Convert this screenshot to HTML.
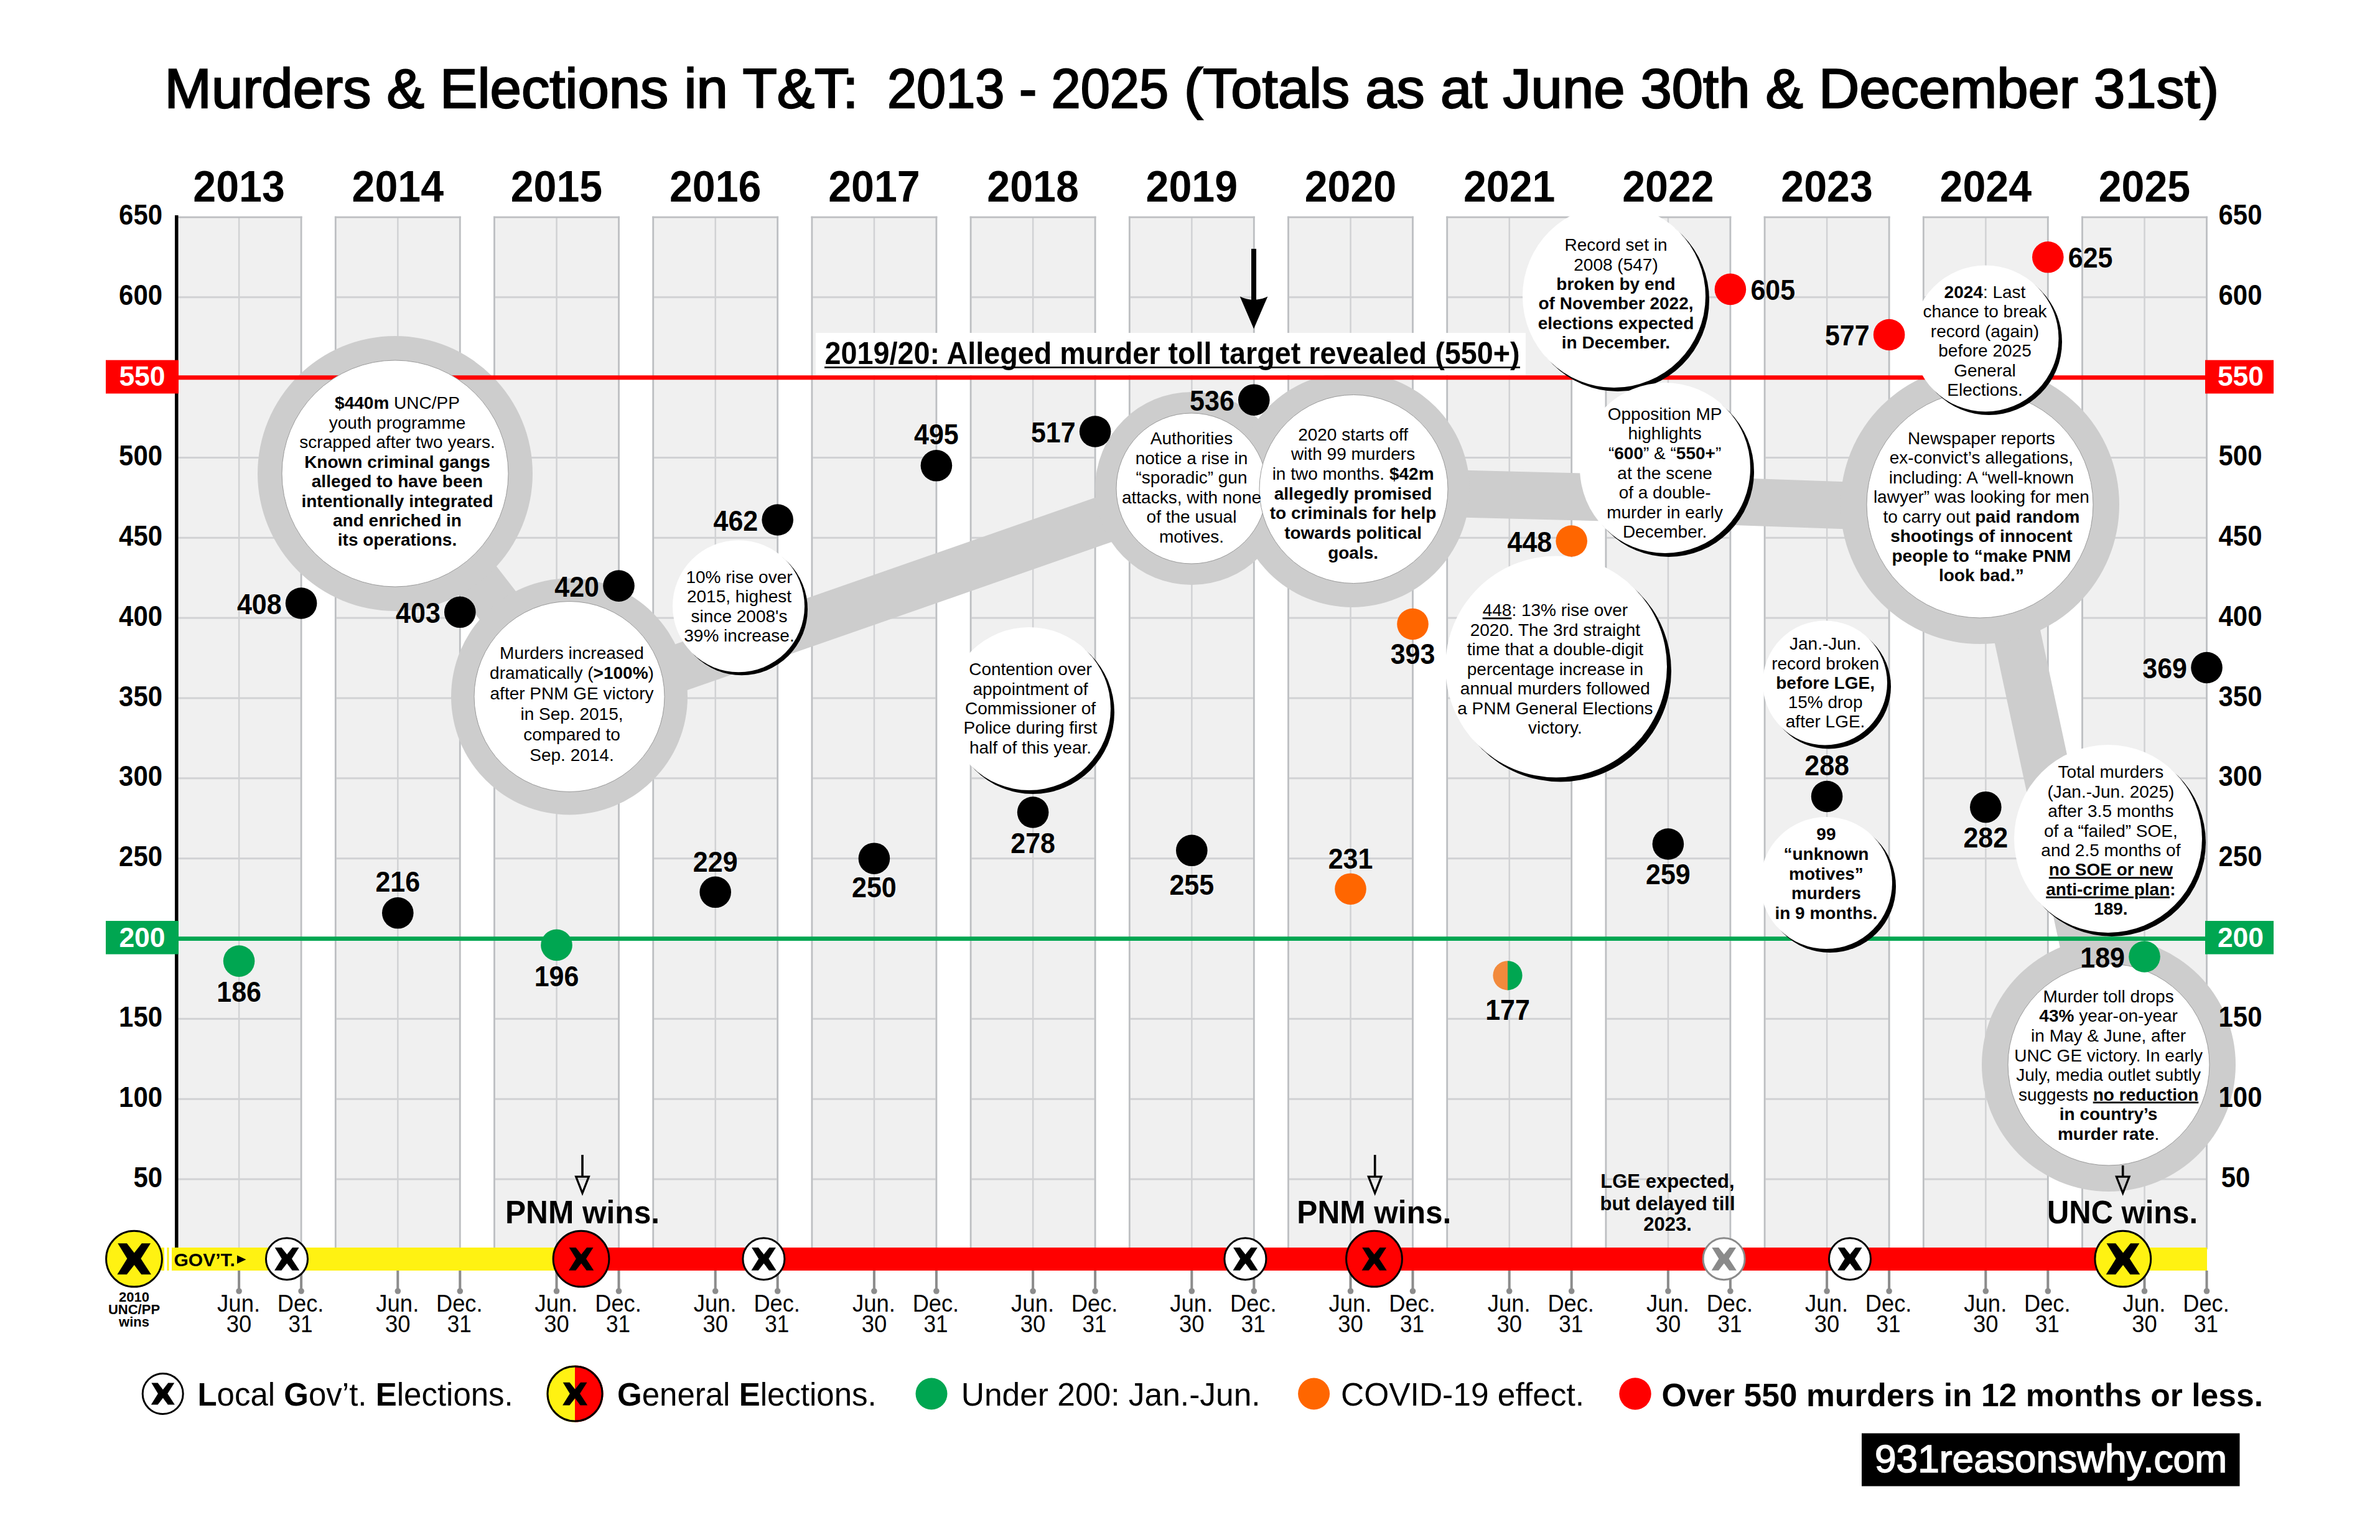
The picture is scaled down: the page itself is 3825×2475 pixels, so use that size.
<!DOCTYPE html>
<html><head><meta charset="utf-8"><title>Murders &amp; Elections in T&amp;T</title>
<style>html,body{margin:0;padding:0;background:#fff;}svg{display:block;}text{font-family:"Liberation Sans", sans-serif;}</style>
</head><body>
<svg width="3825" height="2475" viewBox="0 0 3825 2475" font-family='"Liberation Sans", sans-serif'>
<rect width="3825" height="2475" fill="#fff"/>
<text x="264.5" y="173.3" font-size="88.5" stroke="#000" stroke-width="2.3" fill="#000" lengthAdjust="spacingAndGlyphs" textLength="1115">Murders &amp; Elections in T&amp;T:</text>
<text x="1426" y="173.3" font-size="88.5" stroke="#000" stroke-width="2.3" fill="#000" lengthAdjust="spacingAndGlyphs" textLength="452">2013 - 2025</text>
<text x="1903" y="173.3" font-size="88.5" stroke="#000" stroke-width="2.3" fill="#000" lengthAdjust="spacingAndGlyphs" textLength="1663">(Totals as at June 30th &amp; December 31st)</text>
<text x="384.1" y="324" font-size="70" font-weight="bold" text-anchor="middle" textLength="147.5" lengthAdjust="spacingAndGlyphs">2013</text>
<text x="639.3" y="324" font-size="70" font-weight="bold" text-anchor="middle" textLength="147.5" lengthAdjust="spacingAndGlyphs">2014</text>
<text x="894.5" y="324" font-size="70" font-weight="bold" text-anchor="middle" textLength="147.5" lengthAdjust="spacingAndGlyphs">2015</text>
<text x="1149.7" y="324" font-size="70" font-weight="bold" text-anchor="middle" textLength="147.5" lengthAdjust="spacingAndGlyphs">2016</text>
<text x="1404.9" y="324" font-size="70" font-weight="bold" text-anchor="middle" textLength="147.5" lengthAdjust="spacingAndGlyphs">2017</text>
<text x="1660.1" y="324" font-size="70" font-weight="bold" text-anchor="middle" textLength="147.5" lengthAdjust="spacingAndGlyphs">2018</text>
<text x="1915.3" y="324" font-size="70" font-weight="bold" text-anchor="middle" textLength="147.5" lengthAdjust="spacingAndGlyphs">2019</text>
<text x="2170.5" y="324" font-size="70" font-weight="bold" text-anchor="middle" textLength="147.5" lengthAdjust="spacingAndGlyphs">2020</text>
<text x="2425.7" y="324" font-size="70" font-weight="bold" text-anchor="middle" textLength="147.5" lengthAdjust="spacingAndGlyphs">2021</text>
<text x="2680.9" y="324" font-size="70" font-weight="bold" text-anchor="middle" textLength="147.5" lengthAdjust="spacingAndGlyphs">2022</text>
<text x="2936.1" y="324" font-size="70" font-weight="bold" text-anchor="middle" textLength="147.5" lengthAdjust="spacingAndGlyphs">2023</text>
<text x="3191.3" y="324" font-size="70" font-weight="bold" text-anchor="middle" textLength="147.5" lengthAdjust="spacingAndGlyphs">2024</text>
<text x="3446.5" y="324" font-size="70" font-weight="bold" text-anchor="middle" textLength="147.5" lengthAdjust="spacingAndGlyphs">2025</text>
<rect x="284.1" y="349.1" width="200" height="1680" fill="#f0f0f0"/>
<rect x="285.5" y="476.2" width="197.2" height="3" fill="#d1d2d4"/>
<rect x="285.5" y="605.1" width="197.2" height="3" fill="#d1d2d4"/>
<rect x="285.5" y="734.0" width="197.2" height="3" fill="#d1d2d4"/>
<rect x="285.5" y="862.8" width="197.2" height="3" fill="#d1d2d4"/>
<rect x="285.5" y="991.6" width="197.2" height="3" fill="#d1d2d4"/>
<rect x="285.5" y="1120.5" width="197.2" height="3" fill="#d1d2d4"/>
<rect x="285.5" y="1249.3" width="197.2" height="3" fill="#d1d2d4"/>
<rect x="285.5" y="1378.2" width="197.2" height="3" fill="#d1d2d4"/>
<rect x="285.5" y="1507.1" width="197.2" height="3" fill="#d1d2d4"/>
<rect x="285.5" y="1635.9" width="197.2" height="3" fill="#d1d2d4"/>
<rect x="285.5" y="1764.8" width="197.2" height="3" fill="#d1d2d4"/>
<rect x="285.5" y="1893.6" width="197.2" height="3" fill="#d1d2d4"/>
<rect x="382.9" y="349" width="2.5" height="1660" fill="#d1d2d4"/>
<rect x="282.7" y="347.7" width="202.8" height="2.8" fill="#bdbfc2"/>
<rect x="282.7" y="347.7" width="2.8" height="1660" fill="#bdbfc2"/>
<rect x="482.7" y="347.7" width="2.8" height="1660" fill="#bdbfc2"/>
<rect x="539.3" y="349.1" width="200" height="1680" fill="#f0f0f0"/>
<rect x="540.7" y="476.2" width="197.2" height="3" fill="#d1d2d4"/>
<rect x="540.7" y="605.1" width="197.2" height="3" fill="#d1d2d4"/>
<rect x="540.7" y="734.0" width="197.2" height="3" fill="#d1d2d4"/>
<rect x="540.7" y="862.8" width="197.2" height="3" fill="#d1d2d4"/>
<rect x="540.7" y="991.6" width="197.2" height="3" fill="#d1d2d4"/>
<rect x="540.7" y="1120.5" width="197.2" height="3" fill="#d1d2d4"/>
<rect x="540.7" y="1249.3" width="197.2" height="3" fill="#d1d2d4"/>
<rect x="540.7" y="1378.2" width="197.2" height="3" fill="#d1d2d4"/>
<rect x="540.7" y="1507.1" width="197.2" height="3" fill="#d1d2d4"/>
<rect x="540.7" y="1635.9" width="197.2" height="3" fill="#d1d2d4"/>
<rect x="540.7" y="1764.8" width="197.2" height="3" fill="#d1d2d4"/>
<rect x="540.7" y="1893.6" width="197.2" height="3" fill="#d1d2d4"/>
<rect x="638.1" y="349" width="2.5" height="1660" fill="#d1d2d4"/>
<rect x="537.9" y="347.7" width="202.8" height="2.8" fill="#bdbfc2"/>
<rect x="537.9" y="347.7" width="2.8" height="1660" fill="#bdbfc2"/>
<rect x="737.9" y="347.7" width="2.8" height="1660" fill="#bdbfc2"/>
<rect x="794.5" y="349.1" width="200" height="1680" fill="#f0f0f0"/>
<rect x="795.9" y="476.2" width="197.2" height="3" fill="#d1d2d4"/>
<rect x="795.9" y="605.1" width="197.2" height="3" fill="#d1d2d4"/>
<rect x="795.9" y="734.0" width="197.2" height="3" fill="#d1d2d4"/>
<rect x="795.9" y="862.8" width="197.2" height="3" fill="#d1d2d4"/>
<rect x="795.9" y="991.6" width="197.2" height="3" fill="#d1d2d4"/>
<rect x="795.9" y="1120.5" width="197.2" height="3" fill="#d1d2d4"/>
<rect x="795.9" y="1249.3" width="197.2" height="3" fill="#d1d2d4"/>
<rect x="795.9" y="1378.2" width="197.2" height="3" fill="#d1d2d4"/>
<rect x="795.9" y="1507.1" width="197.2" height="3" fill="#d1d2d4"/>
<rect x="795.9" y="1635.9" width="197.2" height="3" fill="#d1d2d4"/>
<rect x="795.9" y="1764.8" width="197.2" height="3" fill="#d1d2d4"/>
<rect x="795.9" y="1893.6" width="197.2" height="3" fill="#d1d2d4"/>
<rect x="893.3" y="349" width="2.5" height="1660" fill="#d1d2d4"/>
<rect x="793.1" y="347.7" width="202.8" height="2.8" fill="#bdbfc2"/>
<rect x="793.1" y="347.7" width="2.8" height="1660" fill="#bdbfc2"/>
<rect x="993.1" y="347.7" width="2.8" height="1660" fill="#bdbfc2"/>
<rect x="1049.7" y="349.1" width="200" height="1680" fill="#f0f0f0"/>
<rect x="1051.1" y="476.2" width="197.2" height="3" fill="#d1d2d4"/>
<rect x="1051.1" y="605.1" width="197.2" height="3" fill="#d1d2d4"/>
<rect x="1051.1" y="734.0" width="197.2" height="3" fill="#d1d2d4"/>
<rect x="1051.1" y="862.8" width="197.2" height="3" fill="#d1d2d4"/>
<rect x="1051.1" y="991.6" width="197.2" height="3" fill="#d1d2d4"/>
<rect x="1051.1" y="1120.5" width="197.2" height="3" fill="#d1d2d4"/>
<rect x="1051.1" y="1249.3" width="197.2" height="3" fill="#d1d2d4"/>
<rect x="1051.1" y="1378.2" width="197.2" height="3" fill="#d1d2d4"/>
<rect x="1051.1" y="1507.1" width="197.2" height="3" fill="#d1d2d4"/>
<rect x="1051.1" y="1635.9" width="197.2" height="3" fill="#d1d2d4"/>
<rect x="1051.1" y="1764.8" width="197.2" height="3" fill="#d1d2d4"/>
<rect x="1051.1" y="1893.6" width="197.2" height="3" fill="#d1d2d4"/>
<rect x="1148.5" y="349" width="2.5" height="1660" fill="#d1d2d4"/>
<rect x="1048.3" y="347.7" width="202.8" height="2.8" fill="#bdbfc2"/>
<rect x="1048.3" y="347.7" width="2.8" height="1660" fill="#bdbfc2"/>
<rect x="1248.3" y="347.7" width="2.8" height="1660" fill="#bdbfc2"/>
<rect x="1304.9" y="349.1" width="200" height="1680" fill="#f0f0f0"/>
<rect x="1306.3" y="476.2" width="197.2" height="3" fill="#d1d2d4"/>
<rect x="1306.3" y="605.1" width="197.2" height="3" fill="#d1d2d4"/>
<rect x="1306.3" y="734.0" width="197.2" height="3" fill="#d1d2d4"/>
<rect x="1306.3" y="862.8" width="197.2" height="3" fill="#d1d2d4"/>
<rect x="1306.3" y="991.6" width="197.2" height="3" fill="#d1d2d4"/>
<rect x="1306.3" y="1120.5" width="197.2" height="3" fill="#d1d2d4"/>
<rect x="1306.3" y="1249.3" width="197.2" height="3" fill="#d1d2d4"/>
<rect x="1306.3" y="1378.2" width="197.2" height="3" fill="#d1d2d4"/>
<rect x="1306.3" y="1507.1" width="197.2" height="3" fill="#d1d2d4"/>
<rect x="1306.3" y="1635.9" width="197.2" height="3" fill="#d1d2d4"/>
<rect x="1306.3" y="1764.8" width="197.2" height="3" fill="#d1d2d4"/>
<rect x="1306.3" y="1893.6" width="197.2" height="3" fill="#d1d2d4"/>
<rect x="1403.7" y="349" width="2.5" height="1660" fill="#d1d2d4"/>
<rect x="1303.5" y="347.7" width="202.8" height="2.8" fill="#bdbfc2"/>
<rect x="1303.5" y="347.7" width="2.8" height="1660" fill="#bdbfc2"/>
<rect x="1503.5" y="347.7" width="2.8" height="1660" fill="#bdbfc2"/>
<rect x="1560.1" y="349.1" width="200" height="1680" fill="#f0f0f0"/>
<rect x="1561.5" y="476.2" width="197.2" height="3" fill="#d1d2d4"/>
<rect x="1561.5" y="605.1" width="197.2" height="3" fill="#d1d2d4"/>
<rect x="1561.5" y="734.0" width="197.2" height="3" fill="#d1d2d4"/>
<rect x="1561.5" y="862.8" width="197.2" height="3" fill="#d1d2d4"/>
<rect x="1561.5" y="991.6" width="197.2" height="3" fill="#d1d2d4"/>
<rect x="1561.5" y="1120.5" width="197.2" height="3" fill="#d1d2d4"/>
<rect x="1561.5" y="1249.3" width="197.2" height="3" fill="#d1d2d4"/>
<rect x="1561.5" y="1378.2" width="197.2" height="3" fill="#d1d2d4"/>
<rect x="1561.5" y="1507.1" width="197.2" height="3" fill="#d1d2d4"/>
<rect x="1561.5" y="1635.9" width="197.2" height="3" fill="#d1d2d4"/>
<rect x="1561.5" y="1764.8" width="197.2" height="3" fill="#d1d2d4"/>
<rect x="1561.5" y="1893.6" width="197.2" height="3" fill="#d1d2d4"/>
<rect x="1658.9" y="349" width="2.5" height="1660" fill="#d1d2d4"/>
<rect x="1558.7" y="347.7" width="202.8" height="2.8" fill="#bdbfc2"/>
<rect x="1558.7" y="347.7" width="2.8" height="1660" fill="#bdbfc2"/>
<rect x="1758.7" y="347.7" width="2.8" height="1660" fill="#bdbfc2"/>
<rect x="1815.3" y="349.1" width="200" height="1680" fill="#f0f0f0"/>
<rect x="1816.7" y="476.2" width="197.2" height="3" fill="#d1d2d4"/>
<rect x="1816.7" y="605.1" width="197.2" height="3" fill="#d1d2d4"/>
<rect x="1816.7" y="734.0" width="197.2" height="3" fill="#d1d2d4"/>
<rect x="1816.7" y="862.8" width="197.2" height="3" fill="#d1d2d4"/>
<rect x="1816.7" y="991.6" width="197.2" height="3" fill="#d1d2d4"/>
<rect x="1816.7" y="1120.5" width="197.2" height="3" fill="#d1d2d4"/>
<rect x="1816.7" y="1249.3" width="197.2" height="3" fill="#d1d2d4"/>
<rect x="1816.7" y="1378.2" width="197.2" height="3" fill="#d1d2d4"/>
<rect x="1816.7" y="1507.1" width="197.2" height="3" fill="#d1d2d4"/>
<rect x="1816.7" y="1635.9" width="197.2" height="3" fill="#d1d2d4"/>
<rect x="1816.7" y="1764.8" width="197.2" height="3" fill="#d1d2d4"/>
<rect x="1816.7" y="1893.6" width="197.2" height="3" fill="#d1d2d4"/>
<rect x="1914.1" y="349" width="2.5" height="1660" fill="#d1d2d4"/>
<rect x="1813.9" y="347.7" width="202.8" height="2.8" fill="#bdbfc2"/>
<rect x="1813.9" y="347.7" width="2.8" height="1660" fill="#bdbfc2"/>
<rect x="2013.9" y="347.7" width="2.8" height="1660" fill="#bdbfc2"/>
<rect x="2070.5" y="349.1" width="200" height="1680" fill="#f0f0f0"/>
<rect x="2071.9" y="476.2" width="197.2" height="3" fill="#d1d2d4"/>
<rect x="2071.9" y="605.1" width="197.2" height="3" fill="#d1d2d4"/>
<rect x="2071.9" y="734.0" width="197.2" height="3" fill="#d1d2d4"/>
<rect x="2071.9" y="862.8" width="197.2" height="3" fill="#d1d2d4"/>
<rect x="2071.9" y="991.6" width="197.2" height="3" fill="#d1d2d4"/>
<rect x="2071.9" y="1120.5" width="197.2" height="3" fill="#d1d2d4"/>
<rect x="2071.9" y="1249.3" width="197.2" height="3" fill="#d1d2d4"/>
<rect x="2071.9" y="1378.2" width="197.2" height="3" fill="#d1d2d4"/>
<rect x="2071.9" y="1507.1" width="197.2" height="3" fill="#d1d2d4"/>
<rect x="2071.9" y="1635.9" width="197.2" height="3" fill="#d1d2d4"/>
<rect x="2071.9" y="1764.8" width="197.2" height="3" fill="#d1d2d4"/>
<rect x="2071.9" y="1893.6" width="197.2" height="3" fill="#d1d2d4"/>
<rect x="2169.3" y="349" width="2.5" height="1660" fill="#d1d2d4"/>
<rect x="2069.1" y="347.7" width="202.8" height="2.8" fill="#bdbfc2"/>
<rect x="2069.1" y="347.7" width="2.8" height="1660" fill="#bdbfc2"/>
<rect x="2269.1" y="347.7" width="2.8" height="1660" fill="#bdbfc2"/>
<rect x="2325.7" y="349.1" width="200" height="1680" fill="#f0f0f0"/>
<rect x="2327.1" y="476.2" width="197.2" height="3" fill="#d1d2d4"/>
<rect x="2327.1" y="605.1" width="197.2" height="3" fill="#d1d2d4"/>
<rect x="2327.1" y="734.0" width="197.2" height="3" fill="#d1d2d4"/>
<rect x="2327.1" y="862.8" width="197.2" height="3" fill="#d1d2d4"/>
<rect x="2327.1" y="991.6" width="197.2" height="3" fill="#d1d2d4"/>
<rect x="2327.1" y="1120.5" width="197.2" height="3" fill="#d1d2d4"/>
<rect x="2327.1" y="1249.3" width="197.2" height="3" fill="#d1d2d4"/>
<rect x="2327.1" y="1378.2" width="197.2" height="3" fill="#d1d2d4"/>
<rect x="2327.1" y="1507.1" width="197.2" height="3" fill="#d1d2d4"/>
<rect x="2327.1" y="1635.9" width="197.2" height="3" fill="#d1d2d4"/>
<rect x="2327.1" y="1764.8" width="197.2" height="3" fill="#d1d2d4"/>
<rect x="2327.1" y="1893.6" width="197.2" height="3" fill="#d1d2d4"/>
<rect x="2424.5" y="349" width="2.5" height="1660" fill="#d1d2d4"/>
<rect x="2324.3" y="347.7" width="202.8" height="2.8" fill="#bdbfc2"/>
<rect x="2324.3" y="347.7" width="2.8" height="1660" fill="#bdbfc2"/>
<rect x="2524.3" y="347.7" width="2.8" height="1660" fill="#bdbfc2"/>
<rect x="2580.9" y="349.1" width="200" height="1680" fill="#f0f0f0"/>
<rect x="2582.3" y="476.2" width="197.2" height="3" fill="#d1d2d4"/>
<rect x="2582.3" y="605.1" width="197.2" height="3" fill="#d1d2d4"/>
<rect x="2582.3" y="734.0" width="197.2" height="3" fill="#d1d2d4"/>
<rect x="2582.3" y="862.8" width="197.2" height="3" fill="#d1d2d4"/>
<rect x="2582.3" y="991.6" width="197.2" height="3" fill="#d1d2d4"/>
<rect x="2582.3" y="1120.5" width="197.2" height="3" fill="#d1d2d4"/>
<rect x="2582.3" y="1249.3" width="197.2" height="3" fill="#d1d2d4"/>
<rect x="2582.3" y="1378.2" width="197.2" height="3" fill="#d1d2d4"/>
<rect x="2582.3" y="1507.1" width="197.2" height="3" fill="#d1d2d4"/>
<rect x="2582.3" y="1635.9" width="197.2" height="3" fill="#d1d2d4"/>
<rect x="2582.3" y="1764.8" width="197.2" height="3" fill="#d1d2d4"/>
<rect x="2582.3" y="1893.6" width="197.2" height="3" fill="#d1d2d4"/>
<rect x="2679.7" y="349" width="2.5" height="1660" fill="#d1d2d4"/>
<rect x="2579.5" y="347.7" width="202.8" height="2.8" fill="#bdbfc2"/>
<rect x="2579.5" y="347.7" width="2.8" height="1660" fill="#bdbfc2"/>
<rect x="2779.5" y="347.7" width="2.8" height="1660" fill="#bdbfc2"/>
<rect x="2836.1" y="349.1" width="200" height="1680" fill="#f0f0f0"/>
<rect x="2837.5" y="476.2" width="197.2" height="3" fill="#d1d2d4"/>
<rect x="2837.5" y="605.1" width="197.2" height="3" fill="#d1d2d4"/>
<rect x="2837.5" y="734.0" width="197.2" height="3" fill="#d1d2d4"/>
<rect x="2837.5" y="862.8" width="197.2" height="3" fill="#d1d2d4"/>
<rect x="2837.5" y="991.6" width="197.2" height="3" fill="#d1d2d4"/>
<rect x="2837.5" y="1120.5" width="197.2" height="3" fill="#d1d2d4"/>
<rect x="2837.5" y="1249.3" width="197.2" height="3" fill="#d1d2d4"/>
<rect x="2837.5" y="1378.2" width="197.2" height="3" fill="#d1d2d4"/>
<rect x="2837.5" y="1507.1" width="197.2" height="3" fill="#d1d2d4"/>
<rect x="2837.5" y="1635.9" width="197.2" height="3" fill="#d1d2d4"/>
<rect x="2837.5" y="1764.8" width="197.2" height="3" fill="#d1d2d4"/>
<rect x="2837.5" y="1893.6" width="197.2" height="3" fill="#d1d2d4"/>
<rect x="2934.9" y="349" width="2.5" height="1660" fill="#d1d2d4"/>
<rect x="2834.7" y="347.7" width="202.8" height="2.8" fill="#bdbfc2"/>
<rect x="2834.7" y="347.7" width="2.8" height="1660" fill="#bdbfc2"/>
<rect x="3034.7" y="347.7" width="2.8" height="1660" fill="#bdbfc2"/>
<rect x="3091.3" y="349.1" width="200" height="1680" fill="#f0f0f0"/>
<rect x="3092.7" y="476.2" width="197.2" height="3" fill="#d1d2d4"/>
<rect x="3092.7" y="605.1" width="197.2" height="3" fill="#d1d2d4"/>
<rect x="3092.7" y="734.0" width="197.2" height="3" fill="#d1d2d4"/>
<rect x="3092.7" y="862.8" width="197.2" height="3" fill="#d1d2d4"/>
<rect x="3092.7" y="991.6" width="197.2" height="3" fill="#d1d2d4"/>
<rect x="3092.7" y="1120.5" width="197.2" height="3" fill="#d1d2d4"/>
<rect x="3092.7" y="1249.3" width="197.2" height="3" fill="#d1d2d4"/>
<rect x="3092.7" y="1378.2" width="197.2" height="3" fill="#d1d2d4"/>
<rect x="3092.7" y="1507.1" width="197.2" height="3" fill="#d1d2d4"/>
<rect x="3092.7" y="1635.9" width="197.2" height="3" fill="#d1d2d4"/>
<rect x="3092.7" y="1764.8" width="197.2" height="3" fill="#d1d2d4"/>
<rect x="3092.7" y="1893.6" width="197.2" height="3" fill="#d1d2d4"/>
<rect x="3190.1" y="349" width="2.5" height="1660" fill="#d1d2d4"/>
<rect x="3089.9" y="347.7" width="202.8" height="2.8" fill="#bdbfc2"/>
<rect x="3089.9" y="347.7" width="2.8" height="1660" fill="#bdbfc2"/>
<rect x="3289.9" y="347.7" width="2.8" height="1660" fill="#bdbfc2"/>
<rect x="3346.5" y="349.1" width="200" height="1680" fill="#f0f0f0"/>
<rect x="3347.9" y="476.2" width="197.2" height="3" fill="#d1d2d4"/>
<rect x="3347.9" y="605.1" width="197.2" height="3" fill="#d1d2d4"/>
<rect x="3347.9" y="734.0" width="197.2" height="3" fill="#d1d2d4"/>
<rect x="3347.9" y="862.8" width="197.2" height="3" fill="#d1d2d4"/>
<rect x="3347.9" y="991.6" width="197.2" height="3" fill="#d1d2d4"/>
<rect x="3347.9" y="1120.5" width="197.2" height="3" fill="#d1d2d4"/>
<rect x="3347.9" y="1249.3" width="197.2" height="3" fill="#d1d2d4"/>
<rect x="3347.9" y="1378.2" width="197.2" height="3" fill="#d1d2d4"/>
<rect x="3347.9" y="1507.1" width="197.2" height="3" fill="#d1d2d4"/>
<rect x="3347.9" y="1635.9" width="197.2" height="3" fill="#d1d2d4"/>
<rect x="3347.9" y="1764.8" width="197.2" height="3" fill="#d1d2d4"/>
<rect x="3347.9" y="1893.6" width="197.2" height="3" fill="#d1d2d4"/>
<rect x="3445.3" y="349" width="2.5" height="1660" fill="#d1d2d4"/>
<rect x="3345.1" y="347.7" width="202.8" height="2.8" fill="#bdbfc2"/>
<rect x="3345.1" y="347.7" width="2.8" height="1660" fill="#bdbfc2"/>
<rect x="3545.1" y="347.7" width="2.8" height="1660" fill="#bdbfc2"/>
<rect x="281" y="346" width="5.5" height="1662" fill="#000"/>
<path d="M635.0,761.0 L915.0,1121.0" stroke="#cdcdcd" stroke-width="74" fill="none" stroke-linejoin="round"/>
<path d="M915.0,1135.0 L1915.0,786.0" stroke="#cdcdcd" stroke-width="76" fill="none" stroke-linejoin="round"/>
<path d="M2173.0,789.0 L2676.0,802.0 L3182.0,820.0" stroke="#cdcdcd" stroke-width="76" fill="none" stroke-linejoin="round"/>
<path d="M3196.7,810.0 L3390.0,1711.0" stroke="#cdcdcd" stroke-width="76" fill="none" stroke-linejoin="round"/>
<circle cx="635" cy="761" r="221" fill="#cdcdcd"/>
<circle cx="915" cy="1119.5" r="190" fill="#cdcdcd"/>
<circle cx="1915" cy="785" r="155" fill="#cdcdcd"/>
<circle cx="2173" cy="787" r="189" fill="#cdcdcd"/>
<circle cx="3182" cy="811" r="224" fill="#cdcdcd"/>
<circle cx="3389" cy="1711" r="204" fill="#cdcdcd"/>
<rect x="286" y="603.3" width="3260" height="7" fill="#ff0000"/>
<rect x="170" y="578.7" width="117" height="53.8" fill="#ff0000"/>
<rect x="3544" y="578.7" width="110" height="53.8" fill="#ff0000"/>
<text x="228.5" y="619.5" font-size="44.5" font-weight="bold" fill="#fff" text-anchor="middle">550</text>
<text x="3601" y="619.5" font-size="44.5" font-weight="bold" fill="#fff" text-anchor="middle">550</text>
<rect x="286" y="1505.2" width="3260" height="6.8" fill="#00a651"/>
<rect x="170" y="1480" width="117" height="53.6" fill="#00a651"/>
<rect x="3544" y="1480" width="110" height="53.6" fill="#00a651"/>
<text x="228.5" y="1522" font-size="44.5" font-weight="bold" fill="#fff" text-anchor="middle">200</text>
<text x="3601" y="1522" font-size="44.5" font-weight="bold" fill="#fff" text-anchor="middle">200</text>
<circle cx="635" cy="761" r="182" fill="#fff" stroke="#9a9a9a" stroke-width="1"/>
<circle cx="915" cy="1119.5" r="153" fill="#fff" stroke="#9a9a9a" stroke-width="1"/>
<circle cx="1915" cy="785" r="121" fill="#fff" stroke="#9a9a9a" stroke-width="1"/>
<circle cx="2175.5" cy="786" r="151.5" fill="#fff" stroke="#9a9a9a" stroke-width="1"/>
<circle cx="3182" cy="811" r="182" fill="#fff" stroke="#9a9a9a" stroke-width="1"/>
<circle cx="3389" cy="1711" r="162" fill="#fff" stroke="#9a9a9a" stroke-width="1"/>
<rect x="1311" y="535" width="1141" height="68" fill="#fff"/>
<text x="1325.6" y="585.4" font-size="49.5" font-weight="bold" textLength="1117" lengthAdjust="spacingAndGlyphs">2019/20: Alleged murder toll target revealed (550+)</text>
<rect x="1325" y="589.2" width="1118" height="2.6" fill="#000"/>
<circle cx="1192" cy="979.2" r="106" fill="#000"/>
<circle cx="1187" cy="974.2" r="106" fill="#fff"/>
<circle cx="1660" cy="1145" r="131" fill="#000"/>
<circle cx="1654" cy="1139" r="131" fill="#fff"/>
<circle cx="2600" cy="482" r="147" fill="#000"/>
<circle cx="2594" cy="476" r="147" fill="#fff"/>
<circle cx="2682" cy="758" r="137" fill="#000"/>
<circle cx="2676" cy="752" r="137" fill="#fff"/>
<circle cx="2508" cy="1078.5" r="178" fill="#000"/>
<circle cx="2501" cy="1071.5" r="178" fill="#fff"/>
<circle cx="2939" cy="1103.5" r="100" fill="#000"/>
<circle cx="2933" cy="1097.5" r="100" fill="#fff"/>
<circle cx="2941" cy="1425" r="106" fill="#000"/>
<circle cx="2935" cy="1419" r="106" fill="#fff"/>
<circle cx="3196.5" cy="549.5" r="117.5" fill="#000"/>
<circle cx="3191" cy="544" r="117.5" fill="#fff"/>
<circle cx="3394" cy="1354" r="151" fill="#000"/>
<circle cx="3388" cy="1348" r="151" fill="#fff"/>
<text x="638.5" y="657.3" font-size="28" text-anchor="middle" xml:space="preserve"><tspan font-weight="bold">$440m</tspan> UNC/PP</text>
<text x="638.5" y="688.8" font-size="28" text-anchor="middle" xml:space="preserve">youth programme</text>
<text x="638.5" y="720.2" font-size="28" text-anchor="middle" xml:space="preserve">scrapped after two years.</text>
<text x="638.5" y="751.6" font-size="28" text-anchor="middle" xml:space="preserve"><tspan font-weight="bold">Known criminal gangs</tspan></text>
<text x="638.5" y="783.1" font-size="28" text-anchor="middle" xml:space="preserve"><tspan font-weight="bold">alleged to have been</tspan></text>
<text x="638.5" y="814.5" font-size="28" text-anchor="middle" xml:space="preserve"><tspan font-weight="bold">intentionally integrated</tspan></text>
<text x="638.5" y="846.0" font-size="28" text-anchor="middle" xml:space="preserve"><tspan font-weight="bold">and enriched in</tspan></text>
<text x="638.5" y="877.4" font-size="28" text-anchor="middle" xml:space="preserve"><tspan font-weight="bold">its operations.</tspan></text>
<text x="919.0" y="1058.5" font-size="28" text-anchor="middle" xml:space="preserve">Murders increased</text>
<text x="919.0" y="1091.4" font-size="28" text-anchor="middle" xml:space="preserve">dramatically (<tspan font-weight="bold">&gt;100%</tspan>)</text>
<text x="919.0" y="1124.3" font-size="28" text-anchor="middle" xml:space="preserve">after PNM GE victory</text>
<text x="919.0" y="1157.2" font-size="28" text-anchor="middle" xml:space="preserve">in Sep. 2015,</text>
<text x="919.0" y="1190.1" font-size="28" text-anchor="middle" xml:space="preserve">compared to</text>
<text x="919.0" y="1223.0" font-size="28" text-anchor="middle" xml:space="preserve">Sep. 2014.</text>
<text x="1188.0" y="937.0" font-size="28" text-anchor="middle" xml:space="preserve">10% rise over</text>
<text x="1188.0" y="968.3" font-size="28" text-anchor="middle" xml:space="preserve">2015, highest</text>
<text x="1188.0" y="999.6" font-size="28" text-anchor="middle" xml:space="preserve">since 2008's</text>
<text x="1188.0" y="1030.9" font-size="28" text-anchor="middle" xml:space="preserve">39% increase.</text>
<text x="1656.0" y="1085.0" font-size="28" text-anchor="middle" xml:space="preserve">Contention over</text>
<text x="1656.0" y="1116.5" font-size="28" text-anchor="middle" xml:space="preserve">appointment of</text>
<text x="1656.0" y="1147.9" font-size="28" text-anchor="middle" xml:space="preserve">Commissioner of</text>
<text x="1656.0" y="1179.3" font-size="28" text-anchor="middle" xml:space="preserve">Police during first</text>
<text x="1656.0" y="1210.8" font-size="28" text-anchor="middle" xml:space="preserve">half of this year.</text>
<text x="1915.0" y="714.2" font-size="28" text-anchor="middle" xml:space="preserve">Authorities</text>
<text x="1915.0" y="745.8" font-size="28" text-anchor="middle" xml:space="preserve">notice a rise in</text>
<text x="1915.0" y="777.3" font-size="28" text-anchor="middle" xml:space="preserve">“sporadic” gun</text>
<text x="1915.0" y="808.9" font-size="28" text-anchor="middle" xml:space="preserve">attacks, with none</text>
<text x="1915.0" y="840.4" font-size="28" text-anchor="middle" xml:space="preserve">of the usual</text>
<text x="1915.0" y="872.0" font-size="28" text-anchor="middle" xml:space="preserve">motives.</text>
<text x="2174.6" y="707.6" font-size="28" text-anchor="middle" xml:space="preserve">2020 starts off</text>
<text x="2174.6" y="739.2" font-size="28" text-anchor="middle" xml:space="preserve">with 99 murders</text>
<text x="2174.6" y="770.9" font-size="28" text-anchor="middle" xml:space="preserve">in two months. <tspan font-weight="bold">$42m</tspan></text>
<text x="2174.6" y="802.5" font-size="28" text-anchor="middle" xml:space="preserve"><tspan font-weight="bold">allegedly promised</tspan></text>
<text x="2174.6" y="834.2" font-size="28" text-anchor="middle" xml:space="preserve"><tspan font-weight="bold">to criminals for help</tspan></text>
<text x="2174.6" y="865.9" font-size="28" text-anchor="middle" xml:space="preserve"><tspan font-weight="bold">towards political</tspan></text>
<text x="2174.6" y="897.5" font-size="28" text-anchor="middle" xml:space="preserve"><tspan font-weight="bold">goals.</tspan></text>
<text x="2597.0" y="403.4" font-size="28" text-anchor="middle" xml:space="preserve">Record set in</text>
<text x="2597.0" y="434.8" font-size="28" text-anchor="middle" xml:space="preserve">2008 (547)</text>
<text x="2597.0" y="466.1" font-size="28" text-anchor="middle" xml:space="preserve"><tspan font-weight="bold">broken by end</tspan></text>
<text x="2597.0" y="497.4" font-size="28" text-anchor="middle" xml:space="preserve"><tspan font-weight="bold">of November 2022,</tspan></text>
<text x="2597.0" y="528.8" font-size="28" text-anchor="middle" xml:space="preserve"><tspan font-weight="bold">elections expected</tspan></text>
<text x="2597.0" y="560.1" font-size="28" text-anchor="middle" xml:space="preserve"><tspan font-weight="bold">in December.</tspan></text>
<text x="2675.6" y="674.9" font-size="28" text-anchor="middle" xml:space="preserve">Opposition MP</text>
<text x="2675.6" y="706.4" font-size="28" text-anchor="middle" xml:space="preserve">highlights</text>
<text x="2675.6" y="738.0" font-size="28" text-anchor="middle" xml:space="preserve">“<tspan font-weight="bold">600</tspan>” &amp; “<tspan font-weight="bold">550+</tspan>”</text>
<text x="2675.6" y="769.5" font-size="28" text-anchor="middle" xml:space="preserve">at the scene</text>
<text x="2675.6" y="801.1" font-size="28" text-anchor="middle" xml:space="preserve">of a double-</text>
<text x="2675.6" y="832.6" font-size="28" text-anchor="middle" xml:space="preserve">murder in early</text>
<text x="2675.6" y="864.2" font-size="28" text-anchor="middle" xml:space="preserve">December.</text>
<text x="2499.4" y="990.4" font-size="28" text-anchor="middle" xml:space="preserve"><tspan text-decoration="underline">448</tspan>: 13% rise over</text>
<text x="2499.4" y="1021.9" font-size="28" text-anchor="middle" xml:space="preserve">2020. The 3rd straight</text>
<text x="2499.4" y="1053.4" font-size="28" text-anchor="middle" xml:space="preserve">time that a double-digit</text>
<text x="2499.4" y="1084.9" font-size="28" text-anchor="middle" xml:space="preserve">percentage increase in</text>
<text x="2499.4" y="1116.4" font-size="28" text-anchor="middle" xml:space="preserve">annual murders followed</text>
<text x="2499.4" y="1147.9" font-size="28" text-anchor="middle" xml:space="preserve">a PNM General Elections</text>
<text x="2499.4" y="1179.4" font-size="28" text-anchor="middle" xml:space="preserve">victory.</text>
<text x="2933.6" y="1044.2" font-size="28" text-anchor="middle" xml:space="preserve">Jan.-Jun.</text>
<text x="2933.6" y="1075.5" font-size="28" text-anchor="middle" xml:space="preserve">record broken</text>
<text x="2933.6" y="1106.7" font-size="28" text-anchor="middle" xml:space="preserve"><tspan font-weight="bold">before LGE,</tspan></text>
<text x="2933.6" y="1138.0" font-size="28" text-anchor="middle" xml:space="preserve">15% drop</text>
<text x="2933.6" y="1169.2" font-size="28" text-anchor="middle" xml:space="preserve">after LGE.</text>
<text x="2934.9" y="1350.2" font-size="28" text-anchor="middle" xml:space="preserve"><tspan font-weight="bold">99</tspan></text>
<text x="2934.9" y="1381.9" font-size="28" text-anchor="middle" xml:space="preserve"><tspan font-weight="bold">“unknown</tspan></text>
<text x="2934.9" y="1413.6" font-size="28" text-anchor="middle" xml:space="preserve"><tspan font-weight="bold">motives”</tspan></text>
<text x="2934.9" y="1445.3" font-size="28" text-anchor="middle" xml:space="preserve"><tspan font-weight="bold">murders</tspan></text>
<text x="2934.9" y="1477.0" font-size="28" text-anchor="middle" xml:space="preserve"><tspan font-weight="bold">in 9 months.</tspan></text>
<text x="3190.0" y="479.0" font-size="28" text-anchor="middle" xml:space="preserve"><tspan font-weight="bold">2024</tspan>: Last</text>
<text x="3190.0" y="510.4" font-size="28" text-anchor="middle" xml:space="preserve">chance to break</text>
<text x="3190.0" y="541.9" font-size="28" text-anchor="middle" xml:space="preserve">record (again)</text>
<text x="3190.0" y="573.4" font-size="28" text-anchor="middle" xml:space="preserve">before 2025</text>
<text x="3190.0" y="604.8" font-size="28" text-anchor="middle" xml:space="preserve">General</text>
<text x="3190.0" y="636.2" font-size="28" text-anchor="middle" xml:space="preserve">Elections.</text>
<text x="3184.4" y="713.6" font-size="28" text-anchor="middle" xml:space="preserve">Newspaper reports</text>
<text x="3184.4" y="745.1" font-size="28" text-anchor="middle" xml:space="preserve">ex-convict’s allegations,</text>
<text x="3184.4" y="776.6" font-size="28" text-anchor="middle" xml:space="preserve">including: A “well-known</text>
<text x="3184.4" y="808.1" font-size="28" text-anchor="middle" xml:space="preserve">lawyer” was looking for men</text>
<text x="3184.4" y="839.6" font-size="28" text-anchor="middle" xml:space="preserve">to carry out <tspan font-weight="bold">paid random</tspan></text>
<text x="3184.4" y="871.1" font-size="28" text-anchor="middle" xml:space="preserve"><tspan font-weight="bold">shootings of innocent</tspan></text>
<text x="3184.4" y="902.6" font-size="28" text-anchor="middle" xml:space="preserve"><tspan font-weight="bold">people to “make PNM</tspan></text>
<text x="3184.4" y="934.1" font-size="28" text-anchor="middle" xml:space="preserve"><tspan font-weight="bold">look bad.”</tspan></text>
<text x="3392.4" y="1250.4" font-size="28" text-anchor="middle" xml:space="preserve">Total murders</text>
<text x="3392.4" y="1281.8" font-size="28" text-anchor="middle" xml:space="preserve">(Jan.-Jun. 2025)</text>
<text x="3392.4" y="1313.2" font-size="28" text-anchor="middle" xml:space="preserve">after 3.5 months</text>
<text x="3392.4" y="1344.6" font-size="28" text-anchor="middle" xml:space="preserve">of a “failed” SOE,</text>
<text x="3392.4" y="1376.0" font-size="28" text-anchor="middle" xml:space="preserve">and 2.5 months of</text>
<text x="3392.4" y="1407.4" font-size="28" text-anchor="middle" xml:space="preserve"><tspan font-weight="bold" text-decoration="underline">no SOE or new</tspan></text>
<text x="3392.4" y="1438.8" font-size="28" text-anchor="middle" xml:space="preserve"><tspan font-weight="bold" text-decoration="underline">anti-crime plan</tspan><tspan font-weight="bold">:</tspan></text>
<text x="3392.4" y="1470.2" font-size="28" text-anchor="middle" xml:space="preserve"><tspan font-weight="bold">189.</tspan></text>
<text x="3388.6" y="1610.8" font-size="28" text-anchor="middle" xml:space="preserve">Murder toll drops</text>
<text x="3388.6" y="1642.3" font-size="28" text-anchor="middle" xml:space="preserve"><tspan font-weight="bold">43%</tspan> year-on-year</text>
<text x="3388.6" y="1673.9" font-size="28" text-anchor="middle" xml:space="preserve">in May &amp; June, after</text>
<text x="3388.6" y="1705.5" font-size="28" text-anchor="middle" xml:space="preserve">UNC GE victory. In early</text>
<text x="3388.6" y="1737.0" font-size="28" text-anchor="middle" xml:space="preserve">July, media outlet subtly</text>
<text x="3388.6" y="1768.5" font-size="28" text-anchor="middle" xml:space="preserve">suggests <tspan font-weight="bold" text-decoration="underline">no reduction</tspan></text>
<text x="3388.6" y="1800.1" font-size="28" text-anchor="middle" xml:space="preserve"><tspan font-weight="bold">in country’s</tspan></text>
<text x="3388.6" y="1831.6" font-size="28" text-anchor="middle" xml:space="preserve"><tspan font-weight="bold">murder rate</tspan>.</text>
<text x="261" y="361.4" font-size="45.5" font-weight="bold" text-anchor="end" textLength="69.9" lengthAdjust="spacingAndGlyphs">650</text>
<text x="3600.5" y="361.4" font-size="45.5" font-weight="bold" text-anchor="middle" textLength="69.9" lengthAdjust="spacingAndGlyphs">650</text>
<text x="261" y="490.2" font-size="45.5" font-weight="bold" text-anchor="end" textLength="69.9" lengthAdjust="spacingAndGlyphs">600</text>
<text x="3600.5" y="490.2" font-size="45.5" font-weight="bold" text-anchor="middle" textLength="69.9" lengthAdjust="spacingAndGlyphs">600</text>
<text x="261" y="748.0" font-size="45.5" font-weight="bold" text-anchor="end" textLength="69.9" lengthAdjust="spacingAndGlyphs">500</text>
<text x="3600.5" y="748.0" font-size="45.5" font-weight="bold" text-anchor="middle" textLength="69.9" lengthAdjust="spacingAndGlyphs">500</text>
<text x="261" y="876.8" font-size="45.5" font-weight="bold" text-anchor="end" textLength="69.9" lengthAdjust="spacingAndGlyphs">450</text>
<text x="3600.5" y="876.8" font-size="45.5" font-weight="bold" text-anchor="middle" textLength="69.9" lengthAdjust="spacingAndGlyphs">450</text>
<text x="261" y="1005.6" font-size="45.5" font-weight="bold" text-anchor="end" textLength="69.9" lengthAdjust="spacingAndGlyphs">400</text>
<text x="3600.5" y="1005.6" font-size="45.5" font-weight="bold" text-anchor="middle" textLength="69.9" lengthAdjust="spacingAndGlyphs">400</text>
<text x="261" y="1134.5" font-size="45.5" font-weight="bold" text-anchor="end" textLength="69.9" lengthAdjust="spacingAndGlyphs">350</text>
<text x="3600.5" y="1134.5" font-size="45.5" font-weight="bold" text-anchor="middle" textLength="69.9" lengthAdjust="spacingAndGlyphs">350</text>
<text x="261" y="1263.3" font-size="45.5" font-weight="bold" text-anchor="end" textLength="69.9" lengthAdjust="spacingAndGlyphs">300</text>
<text x="3600.5" y="1263.3" font-size="45.5" font-weight="bold" text-anchor="middle" textLength="69.9" lengthAdjust="spacingAndGlyphs">300</text>
<text x="261" y="1392.2" font-size="45.5" font-weight="bold" text-anchor="end" textLength="69.9" lengthAdjust="spacingAndGlyphs">250</text>
<text x="3600.5" y="1392.2" font-size="45.5" font-weight="bold" text-anchor="middle" textLength="69.9" lengthAdjust="spacingAndGlyphs">250</text>
<text x="261" y="1649.9" font-size="45.5" font-weight="bold" text-anchor="end" textLength="69.9" lengthAdjust="spacingAndGlyphs">150</text>
<text x="3600.5" y="1649.9" font-size="45.5" font-weight="bold" text-anchor="middle" textLength="69.9" lengthAdjust="spacingAndGlyphs">150</text>
<text x="261" y="1778.8" font-size="45.5" font-weight="bold" text-anchor="end" textLength="69.9" lengthAdjust="spacingAndGlyphs">100</text>
<text x="3600.5" y="1778.8" font-size="45.5" font-weight="bold" text-anchor="middle" textLength="69.9" lengthAdjust="spacingAndGlyphs">100</text>
<text x="261" y="1907.6" font-size="45.5" font-weight="bold" text-anchor="end" textLength="46.6" lengthAdjust="spacingAndGlyphs">50</text>
<text x="3593" y="1907.6" font-size="45.5" font-weight="bold" text-anchor="middle" textLength="46.6" lengthAdjust="spacingAndGlyphs">50</text>
<circle cx="384.1" cy="1544.6" r="25.3" fill="#00a651"/>
<text x="384.1" y="1609.6" font-size="45.5" font-weight="bold" text-anchor="middle" textLength="71.7" lengthAdjust="spacingAndGlyphs">186</text>
<circle cx="484.1" cy="969.5" r="25.3" fill="#000"/>
<text x="452.6" y="986.5" font-size="45.5" font-weight="bold" text-anchor="end" textLength="71.7" lengthAdjust="spacingAndGlyphs">408</text>
<circle cx="639.3" cy="1467.3" r="25.3" fill="#000"/>
<text x="639.3" y="1433.3" font-size="45.5" font-weight="bold" text-anchor="middle" textLength="71.7" lengthAdjust="spacingAndGlyphs">216</text>
<circle cx="739.3" cy="983.8" r="25.3" fill="#000"/>
<text x="707.8" y="1000.8" font-size="45.5" font-weight="bold" text-anchor="end" textLength="71.7" lengthAdjust="spacingAndGlyphs">403</text>
<circle cx="894.5" cy="1518.9" r="25.3" fill="#00a651"/>
<text x="894.5" y="1584.9" font-size="45.5" font-weight="bold" text-anchor="middle" textLength="71.7" lengthAdjust="spacingAndGlyphs">196</text>
<circle cx="994.5" cy="941.6" r="25.3" fill="#000"/>
<text x="963.0" y="958.6" font-size="45.5" font-weight="bold" text-anchor="end" textLength="71.7" lengthAdjust="spacingAndGlyphs">420</text>
<circle cx="1149.7" cy="1433.8" r="25.3" fill="#000"/>
<text x="1149.7" y="1400.8" font-size="45.5" font-weight="bold" text-anchor="middle" textLength="71.7" lengthAdjust="spacingAndGlyphs">229</text>
<circle cx="1249.7" cy="835.5" r="25.3" fill="#000"/>
<text x="1218.2" y="852.5" font-size="45.5" font-weight="bold" text-anchor="end" textLength="71.7" lengthAdjust="spacingAndGlyphs">462</text>
<circle cx="1404.9" cy="1379.7" r="25.3" fill="#000"/>
<text x="1404.9" y="1442.2" font-size="45.5" font-weight="bold" text-anchor="middle" textLength="71.7" lengthAdjust="spacingAndGlyphs">250</text>
<circle cx="1504.9" cy="748.3" r="25.3" fill="#000"/>
<text x="1504.9" y="713.8" font-size="45.5" font-weight="bold" text-anchor="middle" textLength="71.7" lengthAdjust="spacingAndGlyphs">495</text>
<circle cx="1660.1" cy="1305.5" r="25.3" fill="#000"/>
<text x="1660.1" y="1370.5" font-size="45.5" font-weight="bold" text-anchor="middle" textLength="71.7" lengthAdjust="spacingAndGlyphs">278</text>
<circle cx="1760.1" cy="693.5" r="25.3" fill="#000"/>
<text x="1728.6" y="710.5" font-size="45.5" font-weight="bold" text-anchor="end" textLength="71.7" lengthAdjust="spacingAndGlyphs">517</text>
<circle cx="1915.3" cy="1366.8" r="25.3" fill="#000"/>
<text x="1915.3" y="1437.8" font-size="45.5" font-weight="bold" text-anchor="middle" textLength="71.7" lengthAdjust="spacingAndGlyphs">255</text>
<circle cx="2015.3" cy="642.7" r="25.3" fill="#000"/>
<text x="1983.8" y="659.7" font-size="45.5" font-weight="bold" text-anchor="end" textLength="71.7" lengthAdjust="spacingAndGlyphs">536</text>
<circle cx="2170.5" cy="1428.7" r="25.3" fill="#ff6600"/>
<text x="2170.5" y="1395.7" font-size="45.5" font-weight="bold" text-anchor="middle" textLength="71.7" lengthAdjust="spacingAndGlyphs">231</text>
<circle cx="2270.5" cy="1003.0" r="25.3" fill="#ff6600"/>
<text x="2270.5" y="1067.0" font-size="45.5" font-weight="bold" text-anchor="middle" textLength="71.7" lengthAdjust="spacingAndGlyphs">393</text>
<path d="M2423.0,1544.2 A23.6,23.6 0 0 0 2423.0,1591.4 Z" fill="#f28a3c"/>
<path d="M2423.0,1544.2 A23.6,23.6 0 0 1 2423.0,1591.4 Z" fill="#00a651"/>
<text x="2423.0" y="1638.8" font-size="45.5" font-weight="bold" text-anchor="middle" textLength="71.7" lengthAdjust="spacingAndGlyphs">177</text>
<circle cx="2525.7" cy="869.5" r="25.3" fill="#ff6600"/>
<text x="2494.2" y="886.5" font-size="45.5" font-weight="bold" text-anchor="end" textLength="71.7" lengthAdjust="spacingAndGlyphs">448</text>
<circle cx="2680.9" cy="1356.5" r="25.3" fill="#000"/>
<text x="2680.9" y="1421.0" font-size="45.5" font-weight="bold" text-anchor="middle" textLength="71.7" lengthAdjust="spacingAndGlyphs">259</text>
<circle cx="2780.9" cy="464.9" r="25.3" fill="#ff0000"/>
<text x="2813.4" y="481.9" font-size="45.5" font-weight="bold" text-anchor="start" textLength="71.7" lengthAdjust="spacingAndGlyphs">605</text>
<circle cx="2936.1" cy="1280.0" r="25.3" fill="#000"/>
<text x="2936.1" y="1246.0" font-size="45.5" font-weight="bold" text-anchor="middle" textLength="71.7" lengthAdjust="spacingAndGlyphs">288</text>
<circle cx="3036.1" cy="538.0" r="25.3" fill="#ff0000"/>
<text x="3004.6" y="555.0" font-size="45.5" font-weight="bold" text-anchor="end" textLength="71.7" lengthAdjust="spacingAndGlyphs">577</text>
<circle cx="3191.3" cy="1297.2" r="25.3" fill="#000"/>
<text x="3191.3" y="1361.7" font-size="45.5" font-weight="bold" text-anchor="middle" textLength="71.7" lengthAdjust="spacingAndGlyphs">282</text>
<circle cx="3291.3" cy="413.3" r="25.3" fill="#ff0000"/>
<text x="3323.8" y="430.3" font-size="45.5" font-weight="bold" text-anchor="start" textLength="71.7" lengthAdjust="spacingAndGlyphs">625</text>
<circle cx="3446.5" cy="1537.5" r="25.3" fill="#00a651"/>
<text x="3415.0" y="1554.5" font-size="45.5" font-weight="bold" text-anchor="end" textLength="71.7" lengthAdjust="spacingAndGlyphs">189</text>
<circle cx="3546.5" cy="1073.0" r="25.3" fill="#000"/>
<text x="3515.0" y="1090.0" font-size="45.5" font-weight="bold" text-anchor="end" textLength="71.7" lengthAdjust="spacingAndGlyphs">369</text>
<rect x="2011" y="399.9" width="8" height="82" fill="#000"/>
<path d="M1992.7,476.4 Q2015,487 2037.4,476.4 L2015,528.4 Z" fill="#000"/>
<rect x="259" y="2005" width="675" height="37" fill="#fff212"/>
<rect x="264" y="2005" width="4.5" height="37" fill="#fff"/>
<rect x="271.5" y="2005" width="4.5" height="37" fill="#fff"/>
<rect x="934" y="2005" width="2478" height="37" fill="#ff0000"/>
<rect x="3412" y="2005" width="135" height="37" fill="#fff212"/>
<text x="279.5" y="2035" font-size="30" font-weight="bold">GOV’T.</text>
<path d="M381,2017.5 L395.5,2024.3 L381,2031 Z" fill="#000"/>
<rect x="382.1" y="2042" width="4" height="33" fill="#8c8c8c"/>
<circle cx="384.1" cy="2075" r="4.8" fill="#8c8c8c"/>
<rect x="482.1" y="2042" width="4" height="33" fill="#8c8c8c"/>
<circle cx="484.1" cy="2075" r="4.8" fill="#8c8c8c"/>
<rect x="637.3" y="2042" width="4" height="33" fill="#8c8c8c"/>
<circle cx="639.3" cy="2075" r="4.8" fill="#8c8c8c"/>
<rect x="737.3" y="2042" width="4" height="33" fill="#8c8c8c"/>
<circle cx="739.3" cy="2075" r="4.8" fill="#8c8c8c"/>
<rect x="892.5" y="2042" width="4" height="33" fill="#8c8c8c"/>
<circle cx="894.5" cy="2075" r="4.8" fill="#8c8c8c"/>
<rect x="992.5" y="2042" width="4" height="33" fill="#8c8c8c"/>
<circle cx="994.5" cy="2075" r="4.8" fill="#8c8c8c"/>
<rect x="1147.7" y="2042" width="4" height="33" fill="#8c8c8c"/>
<circle cx="1149.7" cy="2075" r="4.8" fill="#8c8c8c"/>
<rect x="1247.7" y="2042" width="4" height="33" fill="#8c8c8c"/>
<circle cx="1249.7" cy="2075" r="4.8" fill="#8c8c8c"/>
<rect x="1402.9" y="2042" width="4" height="33" fill="#8c8c8c"/>
<circle cx="1404.9" cy="2075" r="4.8" fill="#8c8c8c"/>
<rect x="1502.9" y="2042" width="4" height="33" fill="#8c8c8c"/>
<circle cx="1504.9" cy="2075" r="4.8" fill="#8c8c8c"/>
<rect x="1658.1" y="2042" width="4" height="33" fill="#8c8c8c"/>
<circle cx="1660.1" cy="2075" r="4.8" fill="#8c8c8c"/>
<rect x="1758.1" y="2042" width="4" height="33" fill="#8c8c8c"/>
<circle cx="1760.1" cy="2075" r="4.8" fill="#8c8c8c"/>
<rect x="1913.3" y="2042" width="4" height="33" fill="#8c8c8c"/>
<circle cx="1915.3" cy="2075" r="4.8" fill="#8c8c8c"/>
<rect x="2013.3" y="2042" width="4" height="33" fill="#8c8c8c"/>
<circle cx="2015.3" cy="2075" r="4.8" fill="#8c8c8c"/>
<rect x="2168.5" y="2042" width="4" height="33" fill="#8c8c8c"/>
<circle cx="2170.5" cy="2075" r="4.8" fill="#8c8c8c"/>
<rect x="2268.5" y="2042" width="4" height="33" fill="#8c8c8c"/>
<circle cx="2270.5" cy="2075" r="4.8" fill="#8c8c8c"/>
<rect x="2423.7" y="2042" width="4" height="33" fill="#8c8c8c"/>
<circle cx="2425.7" cy="2075" r="4.8" fill="#8c8c8c"/>
<rect x="2523.7" y="2042" width="4" height="33" fill="#8c8c8c"/>
<circle cx="2525.7" cy="2075" r="4.8" fill="#8c8c8c"/>
<rect x="2678.9" y="2042" width="4" height="33" fill="#8c8c8c"/>
<circle cx="2680.9" cy="2075" r="4.8" fill="#8c8c8c"/>
<rect x="2778.9" y="2042" width="4" height="33" fill="#8c8c8c"/>
<circle cx="2780.9" cy="2075" r="4.8" fill="#8c8c8c"/>
<rect x="2934.1" y="2042" width="4" height="33" fill="#8c8c8c"/>
<circle cx="2936.1" cy="2075" r="4.8" fill="#8c8c8c"/>
<rect x="3034.1" y="2042" width="4" height="33" fill="#8c8c8c"/>
<circle cx="3036.1" cy="2075" r="4.8" fill="#8c8c8c"/>
<rect x="3189.3" y="2042" width="4" height="33" fill="#8c8c8c"/>
<circle cx="3191.3" cy="2075" r="4.8" fill="#8c8c8c"/>
<rect x="3289.3" y="2042" width="4" height="33" fill="#8c8c8c"/>
<circle cx="3291.3" cy="2075" r="4.8" fill="#8c8c8c"/>
<rect x="3444.5" y="2042" width="4" height="33" fill="#8c8c8c"/>
<circle cx="3446.5" cy="2075" r="4.8" fill="#8c8c8c"/>
<rect x="3544.5" y="2042" width="4" height="33" fill="#8c8c8c"/>
<circle cx="3546.5" cy="2075" r="4.8" fill="#8c8c8c"/>
<text x="383.6" y="2108.2" font-size="38.5" text-anchor="middle" lengthAdjust="spacingAndGlyphs" textLength="69">Jun.</text>
<text x="384.1" y="2141.3" font-size="38.5" text-anchor="middle" lengthAdjust="spacingAndGlyphs" textLength="40.5">30</text>
<text x="483.1" y="2108.2" font-size="38.5" text-anchor="middle" lengthAdjust="spacingAndGlyphs" textLength="74.5">Dec.</text>
<text x="483.1" y="2141.3" font-size="38.5" text-anchor="middle" lengthAdjust="spacingAndGlyphs" textLength="39">31</text>
<text x="638.8" y="2108.2" font-size="38.5" text-anchor="middle" lengthAdjust="spacingAndGlyphs" textLength="69">Jun.</text>
<text x="639.3" y="2141.3" font-size="38.5" text-anchor="middle" lengthAdjust="spacingAndGlyphs" textLength="40.5">30</text>
<text x="738.3" y="2108.2" font-size="38.5" text-anchor="middle" lengthAdjust="spacingAndGlyphs" textLength="74.5">Dec.</text>
<text x="738.3" y="2141.3" font-size="38.5" text-anchor="middle" lengthAdjust="spacingAndGlyphs" textLength="39">31</text>
<text x="894.0" y="2108.2" font-size="38.5" text-anchor="middle" lengthAdjust="spacingAndGlyphs" textLength="69">Jun.</text>
<text x="894.5" y="2141.3" font-size="38.5" text-anchor="middle" lengthAdjust="spacingAndGlyphs" textLength="40.5">30</text>
<text x="993.5" y="2108.2" font-size="38.5" text-anchor="middle" lengthAdjust="spacingAndGlyphs" textLength="74.5">Dec.</text>
<text x="993.5" y="2141.3" font-size="38.5" text-anchor="middle" lengthAdjust="spacingAndGlyphs" textLength="39">31</text>
<text x="1149.2" y="2108.2" font-size="38.5" text-anchor="middle" lengthAdjust="spacingAndGlyphs" textLength="69">Jun.</text>
<text x="1149.7" y="2141.3" font-size="38.5" text-anchor="middle" lengthAdjust="spacingAndGlyphs" textLength="40.5">30</text>
<text x="1248.7" y="2108.2" font-size="38.5" text-anchor="middle" lengthAdjust="spacingAndGlyphs" textLength="74.5">Dec.</text>
<text x="1248.7" y="2141.3" font-size="38.5" text-anchor="middle" lengthAdjust="spacingAndGlyphs" textLength="39">31</text>
<text x="1404.4" y="2108.2" font-size="38.5" text-anchor="middle" lengthAdjust="spacingAndGlyphs" textLength="69">Jun.</text>
<text x="1404.9" y="2141.3" font-size="38.5" text-anchor="middle" lengthAdjust="spacingAndGlyphs" textLength="40.5">30</text>
<text x="1503.9" y="2108.2" font-size="38.5" text-anchor="middle" lengthAdjust="spacingAndGlyphs" textLength="74.5">Dec.</text>
<text x="1503.9" y="2141.3" font-size="38.5" text-anchor="middle" lengthAdjust="spacingAndGlyphs" textLength="39">31</text>
<text x="1659.6" y="2108.2" font-size="38.5" text-anchor="middle" lengthAdjust="spacingAndGlyphs" textLength="69">Jun.</text>
<text x="1660.1" y="2141.3" font-size="38.5" text-anchor="middle" lengthAdjust="spacingAndGlyphs" textLength="40.5">30</text>
<text x="1759.1" y="2108.2" font-size="38.5" text-anchor="middle" lengthAdjust="spacingAndGlyphs" textLength="74.5">Dec.</text>
<text x="1759.1" y="2141.3" font-size="38.5" text-anchor="middle" lengthAdjust="spacingAndGlyphs" textLength="39">31</text>
<text x="1914.8" y="2108.2" font-size="38.5" text-anchor="middle" lengthAdjust="spacingAndGlyphs" textLength="69">Jun.</text>
<text x="1915.3" y="2141.3" font-size="38.5" text-anchor="middle" lengthAdjust="spacingAndGlyphs" textLength="40.5">30</text>
<text x="2014.3" y="2108.2" font-size="38.5" text-anchor="middle" lengthAdjust="spacingAndGlyphs" textLength="74.5">Dec.</text>
<text x="2014.3" y="2141.3" font-size="38.5" text-anchor="middle" lengthAdjust="spacingAndGlyphs" textLength="39">31</text>
<text x="2170.0" y="2108.2" font-size="38.5" text-anchor="middle" lengthAdjust="spacingAndGlyphs" textLength="69">Jun.</text>
<text x="2170.5" y="2141.3" font-size="38.5" text-anchor="middle" lengthAdjust="spacingAndGlyphs" textLength="40.5">30</text>
<text x="2269.5" y="2108.2" font-size="38.5" text-anchor="middle" lengthAdjust="spacingAndGlyphs" textLength="74.5">Dec.</text>
<text x="2269.5" y="2141.3" font-size="38.5" text-anchor="middle" lengthAdjust="spacingAndGlyphs" textLength="39">31</text>
<text x="2425.2" y="2108.2" font-size="38.5" text-anchor="middle" lengthAdjust="spacingAndGlyphs" textLength="69">Jun.</text>
<text x="2425.7" y="2141.3" font-size="38.5" text-anchor="middle" lengthAdjust="spacingAndGlyphs" textLength="40.5">30</text>
<text x="2524.7" y="2108.2" font-size="38.5" text-anchor="middle" lengthAdjust="spacingAndGlyphs" textLength="74.5">Dec.</text>
<text x="2524.7" y="2141.3" font-size="38.5" text-anchor="middle" lengthAdjust="spacingAndGlyphs" textLength="39">31</text>
<text x="2680.4" y="2108.2" font-size="38.5" text-anchor="middle" lengthAdjust="spacingAndGlyphs" textLength="69">Jun.</text>
<text x="2680.9" y="2141.3" font-size="38.5" text-anchor="middle" lengthAdjust="spacingAndGlyphs" textLength="40.5">30</text>
<text x="2779.9" y="2108.2" font-size="38.5" text-anchor="middle" lengthAdjust="spacingAndGlyphs" textLength="74.5">Dec.</text>
<text x="2779.9" y="2141.3" font-size="38.5" text-anchor="middle" lengthAdjust="spacingAndGlyphs" textLength="39">31</text>
<text x="2935.6" y="2108.2" font-size="38.5" text-anchor="middle" lengthAdjust="spacingAndGlyphs" textLength="69">Jun.</text>
<text x="2936.1" y="2141.3" font-size="38.5" text-anchor="middle" lengthAdjust="spacingAndGlyphs" textLength="40.5">30</text>
<text x="3035.1" y="2108.2" font-size="38.5" text-anchor="middle" lengthAdjust="spacingAndGlyphs" textLength="74.5">Dec.</text>
<text x="3035.1" y="2141.3" font-size="38.5" text-anchor="middle" lengthAdjust="spacingAndGlyphs" textLength="39">31</text>
<text x="3190.8" y="2108.2" font-size="38.5" text-anchor="middle" lengthAdjust="spacingAndGlyphs" textLength="69">Jun.</text>
<text x="3191.3" y="2141.3" font-size="38.5" text-anchor="middle" lengthAdjust="spacingAndGlyphs" textLength="40.5">30</text>
<text x="3290.3" y="2108.2" font-size="38.5" text-anchor="middle" lengthAdjust="spacingAndGlyphs" textLength="74.5">Dec.</text>
<text x="3290.3" y="2141.3" font-size="38.5" text-anchor="middle" lengthAdjust="spacingAndGlyphs" textLength="39">31</text>
<text x="3446.0" y="2108.2" font-size="38.5" text-anchor="middle" lengthAdjust="spacingAndGlyphs" textLength="69">Jun.</text>
<text x="3446.5" y="2141.3" font-size="38.5" text-anchor="middle" lengthAdjust="spacingAndGlyphs" textLength="40.5">30</text>
<text x="3545.5" y="2108.2" font-size="38.5" text-anchor="middle" lengthAdjust="spacingAndGlyphs" textLength="74.5">Dec.</text>
<text x="3545.5" y="2141.3" font-size="38.5" text-anchor="middle" lengthAdjust="spacingAndGlyphs" textLength="39">31</text>
<circle cx="215.5" cy="2023.2" r="44.9" fill="#fff212" stroke="#000" stroke-width="3"/>
<path transform="translate(215.5,2023.2) scale(1.36)" d="M-19.3,-18.3 L-8.5,-18.3 L0.2,-7.2 L9,-18.3 L19.5,-18.3 L8,-0.3 L20.2,18.5 L8.6,18.5 L0.2,7.2 L-8.6,18.5 L-19.9,18.5 L-8.2,-0.3 Z" fill="#000"/>
<circle cx="461.0" cy="2023.2" r="33.5" fill="#fff" stroke="#000" stroke-width="3"/>
<path transform="translate(461.0,2023.2) scale(1.0)" d="M-19.3,-18.3 L-8.5,-18.3 L0.2,-7.2 L9,-18.3 L19.5,-18.3 L8,-0.3 L20.2,18.5 L8.6,18.5 L0.2,7.2 L-8.6,18.5 L-19.9,18.5 L-8.2,-0.3 Z" fill="#000"/>
<circle cx="934.0" cy="2023.2" r="44.9" fill="#ff0000" stroke="#000" stroke-width="3"/>
<path transform="translate(934.0,2023.2) scale(1.0)" d="M-19.3,-18.3 L-8.5,-18.3 L0.2,-7.2 L9,-18.3 L19.5,-18.3 L8,-0.3 L20.2,18.5 L8.6,18.5 L0.2,7.2 L-8.6,18.5 L-19.9,18.5 L-8.2,-0.3 Z" fill="#000"/>
<circle cx="1227.4" cy="2023.2" r="33.5" fill="#fff" stroke="#000" stroke-width="3"/>
<path transform="translate(1227.4,2023.2) scale(1.0)" d="M-19.3,-18.3 L-8.5,-18.3 L0.2,-7.2 L9,-18.3 L19.5,-18.3 L8,-0.3 L20.2,18.5 L8.6,18.5 L0.2,7.2 L-8.6,18.5 L-19.9,18.5 L-8.2,-0.3 Z" fill="#000"/>
<circle cx="2001.4" cy="2023.2" r="33.5" fill="#fff" stroke="#000" stroke-width="3"/>
<path transform="translate(2001.4,2023.2) scale(1.0)" d="M-19.3,-18.3 L-8.5,-18.3 L0.2,-7.2 L9,-18.3 L19.5,-18.3 L8,-0.3 L20.2,18.5 L8.6,18.5 L0.2,7.2 L-8.6,18.5 L-19.9,18.5 L-8.2,-0.3 Z" fill="#000"/>
<circle cx="2208.5" cy="2023.2" r="44.9" fill="#ff0000" stroke="#000" stroke-width="3"/>
<path transform="translate(2208.5,2023.2) scale(1.0)" d="M-19.3,-18.3 L-8.5,-18.3 L0.2,-7.2 L9,-18.3 L19.5,-18.3 L8,-0.3 L20.2,18.5 L8.6,18.5 L0.2,7.2 L-8.6,18.5 L-19.9,18.5 L-8.2,-0.3 Z" fill="#000"/>
<circle cx="2770.6" cy="2023.2" r="33.5" fill="#fff" stroke="#8a8a8a" stroke-width="3"/>
<path transform="translate(2770.6,2023.2) scale(1.0)" d="M-19.3,-18.3 L-8.5,-18.3 L0.2,-7.2 L9,-18.3 L19.5,-18.3 L8,-0.3 L20.2,18.5 L8.6,18.5 L0.2,7.2 L-8.6,18.5 L-19.9,18.5 L-8.2,-0.3 Z" fill="#8a8a8a"/>
<circle cx="2973.0" cy="2023.2" r="33.5" fill="#fff" stroke="#000" stroke-width="3"/>
<path transform="translate(2973.0,2023.2) scale(1.0)" d="M-19.3,-18.3 L-8.5,-18.3 L0.2,-7.2 L9,-18.3 L19.5,-18.3 L8,-0.3 L20.2,18.5 L8.6,18.5 L0.2,7.2 L-8.6,18.5 L-19.9,18.5 L-8.2,-0.3 Z" fill="#000"/>
<circle cx="3411.8" cy="2023.2" r="44.9" fill="#fff212" stroke="#000" stroke-width="3"/>
<path transform="translate(3411.8,2023.2) scale(1.36)" d="M-19.3,-18.3 L-8.5,-18.3 L0.2,-7.2 L9,-18.3 L19.5,-18.3 L8,-0.3 L20.2,18.5 L8.6,18.5 L0.2,7.2 L-8.6,18.5 L-19.9,18.5 L-8.2,-0.3 Z" fill="#000"/>
<text x="215.5" y="2092.4" font-size="22" font-weight="bold" text-anchor="middle">2010</text>
<text x="215.5" y="2112" font-size="22" font-weight="bold" text-anchor="middle">UNC/PP</text>
<text x="215.5" y="2131.7" font-size="22" font-weight="bold" text-anchor="middle">wins</text>
<rect x="934.2" y="1856" width="3.6" height="35" fill="#000"/>
<path d="M925.7,1891.2 L946.3,1891.2 L936.0,1917.5 Z" fill="none" stroke="#000" stroke-width="3.3" stroke-linejoin="miter" stroke-miterlimit="10"/>
<rect x="2207.9" y="1856" width="3.6" height="35" fill="#000"/>
<path d="M2199.4,1891.2 L2220.0,1891.2 L2209.7,1917.5 Z" fill="none" stroke="#000" stroke-width="3.3" stroke-linejoin="miter" stroke-miterlimit="10"/>
<rect x="3409.9" y="1873" width="3.6" height="18" fill="#000"/>
<path d="M3401.4,1891.2 L3422.0,1891.2 L3411.7,1917.5 Z" fill="none" stroke="#000" stroke-width="3.3" stroke-linejoin="miter" stroke-miterlimit="10"/>
<text x="936" y="1965.5" font-size="51.5" font-weight="bold" text-anchor="middle" textLength="248" lengthAdjust="spacingAndGlyphs">PNM wins.</text>
<text x="2208.3" y="1965.5" font-size="51.5" font-weight="bold" text-anchor="middle" textLength="248" lengthAdjust="spacingAndGlyphs">PNM wins.</text>
<text x="3411" y="1965.5" font-size="51.5" font-weight="bold" text-anchor="middle" textLength="242" lengthAdjust="spacingAndGlyphs">UNC wins.</text>
<text x="2680" y="1909" font-size="31" font-weight="bold" text-anchor="middle">LGE expected,</text>
<text x="2680" y="1944.7" font-size="31" font-weight="bold" text-anchor="middle">but delayed till</text>
<text x="2680" y="1978" font-size="31" font-weight="bold" text-anchor="middle">2023.</text>
<circle cx="261.7" cy="2240" r="32.5" fill="#fff" stroke="#000" stroke-width="3"/>
<path transform="translate(261.7,2240.0) scale(0.95)" d="M-19.3,-18.3 L-8.5,-18.3 L0.2,-7.2 L9,-18.3 L19.5,-18.3 L8,-0.3 L20.2,18.5 L8.6,18.5 L0.2,7.2 L-8.6,18.5 L-19.9,18.5 L-8.2,-0.3 Z" fill="#000"/>
<text x="317.4" y="2259" font-size="51" xml:space="preserve"><tspan font-weight="bold">L</tspan>ocal <tspan font-weight="bold">G</tspan>ov’t. <tspan font-weight="bold">E</tspan>lections.</text>
<path d="M924,2194.4 A45.6,45.6 0 0 0 924,2285.6 Z" fill="#fff212"/>
<path d="M924,2194.4 A45.6,45.6 0 0 1 924,2285.6 Z" fill="#ff0000"/>
<circle cx="924" cy="2240" r="44" fill="none" stroke="#000" stroke-width="3"/>
<path transform="translate(924.0,2240.0) scale(1.0)" d="M-19.3,-18.3 L-8.5,-18.3 L0.2,-7.2 L9,-18.3 L19.5,-18.3 L8,-0.3 L20.2,18.5 L8.6,18.5 L0.2,7.2 L-8.6,18.5 L-19.9,18.5 L-8.2,-0.3 Z" fill="#000"/>
<text x="992" y="2259" font-size="51" xml:space="preserve"><tspan font-weight="bold">G</tspan>eneral <tspan font-weight="bold">E</tspan>lections.</text>
<circle cx="1497" cy="2240" r="25.5" fill="#00a651"/>
<text x="1544.7" y="2259" font-size="51.5">Under 200: Jan.-Jun.</text>
<circle cx="2111.6" cy="2240" r="25.5" fill="#ff6600"/>
<text x="2155" y="2259" font-size="51.5">COVID-19 effect.</text>
<circle cx="2628" cy="2240" r="25.7" fill="#ff0000"/>
<text x="2670.5" y="2260" font-size="51.6" font-weight="bold" textLength="966.5" lengthAdjust="spacingAndGlyphs">Over 550 murders in 12 months or less.</text>
<rect x="2992" y="2303.5" width="607.5" height="85" fill="#000"/>
<text x="3013" y="2366" font-size="63" fill="#fff" stroke="#fff" stroke-width="1.6" textLength="566" lengthAdjust="spacingAndGlyphs">931reasonswhy.com</text>
</svg>
</body></html>
